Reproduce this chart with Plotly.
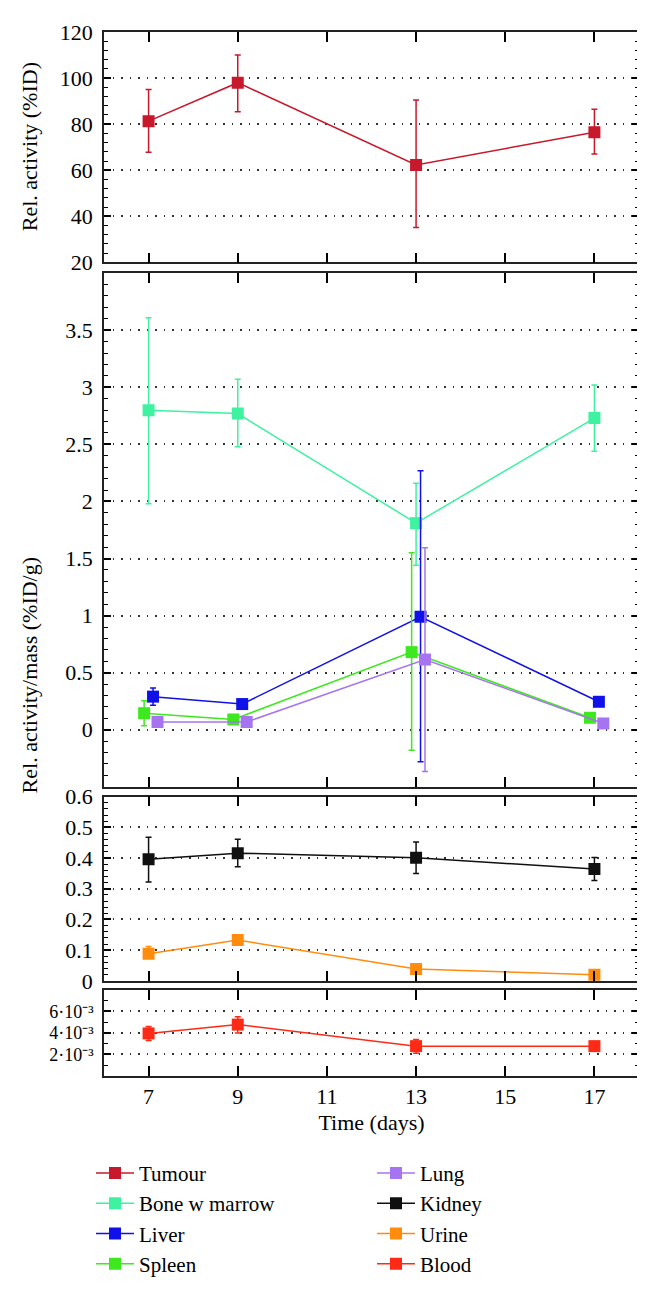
import plotly.graph_objects as go

# Datos
days = [7, 9, 13, 17]

tumour = [81.3, 98.0, 62.3, 76.5]
tumour_hi = [95.0, 110.0, 90.5, 86.5]
tumour_lo = [67.8, 85.4, 35.2, 67.1]

bone = [2.80, 2.77, 1.81, 2.73]
bone_hi = [3.61, 3.07, 2.16, 3.02]
bone_lo = [1.98, 2.48, 1.44, 2.44]

liver = [0.29, 0.225, 0.99, 0.245]
liver_hi = [0.365, 0.245, 2.27, 0.26]
liver_lo = [0.215, 0.205, -0.28, 0.23]

spleen = [0.145, 0.09, 0.68, 0.105]
spleen_hi = [0.255, 0.10, 1.55, 0.115]
spleen_lo = [0.035, 0.08, -0.18, 0.095]

lung = [0.068, 0.068, 0.615, 0.055]
lung_hi = [0.075, 0.075, 1.595, 0.06]
lung_lo = [0.061, 0.061, -0.365, 0.05]

kidney = [0.396, 0.416, 0.401, 0.364]
kidney_hi = [0.468, 0.461, 0.452, 0.402]
kidney_lo = [0.322, 0.372, 0.350, 0.327]

urine = [0.088, 0.133, 0.039, 0.020]
urine_hi = [0.112, 0.140, 0.044, 0.024]
urine_lo = [0.074, 0.126, 0.034, 0.016]

blood = [3.95e-3, 4.77e-3, 2.77e-3, 2.77e-3]
blood_hi = [4.60e-3, 5.50e-3, 3.38e-3, 2.85e-3]
blood_lo = [3.30e-3, 4.00e-3, 2.10e-3, 2.69e-3]

# desplazamiento horizontal de cada serie (para que no se solapen)
dodge = {'Bone w marrow': 0.0, 'Liver': 0.1, 'Spleen': -0.1, 'Lung': 0.2}

FONT = 'Liberation Serif'
FS = 22
TXT = dict(family=FONT, size=FS, color='black')

series = [
    # nombre, valores, hi, lo, color, panel, rango en leyenda
    ('Tumour', tumour, tumour_hi, tumour_lo, '#c8182c', 1, 1),
    ('Bone w marrow', bone, bone_hi, bone_lo, '#3ef2a0', 2, 3),
    ('Liver', liver, liver_hi, liver_lo, '#1010e8', 2, 5),
    ('Spleen', spleen, spleen_hi, spleen_lo, '#3ee81e', 2, 7),
    ('Lung', lung, lung_hi, lung_lo, '#a674f0', 2, 2),
    ('Kidney', kidney, kidney_hi, kidney_lo, '#101010', 3, 4),
    ('Urine', urine, urine_hi, urine_lo, '#ff8c0c', 3, 6),
    ('Blood', blood, blood_hi, blood_lo, '#ff2a16', 4, 8),
]

fig = go.Figure()
for name, vals, hi, lo, color, panel, rank in series:
    off = dodge.get(name, 0.0)
    fig.add_trace(go.Scatter(
        x=[d + off for d in days], y=vals,
        mode='lines+markers', name=name,
        line=dict(color=color, width=1.5),
        marker=dict(symbol='square', size=12, color=color),
        error_y=dict(type='data', symmetric=False,
                     array=[h - v for h, v in zip(hi, vals)],
                     arrayminus=[v - l for v, l in zip(vals, lo)],
                     color=color, thickness=1.5, width=3),
        xaxis='x' if panel == 1 else 'x%d' % panel,
        yaxis='y' if panel == 1 else 'y%d' % panel,
        legendrank=rank,
    ))

# dominios verticales de cada panel (fraccion del area de dibujo)
domains = {1: [0.7793, 1.0], 2: [0.2770, 0.7690], 3: [0.0911, 0.2676], 4: [0.0, 0.0826]}
yranges = {1: [20, 120], 2: [-0.5, 4], 3: [0, 0.6], 4: [0, 8e-3]}
ytickvals = {1: [20, 40, 60, 80, 100, 120],
             2: [0, 0.5, 1, 1.5, 2, 2.5, 3, 3.5],
             3: [0, 0.1, 0.2, 0.3, 0.4, 0.5, 0.6],
             4: [2e-3, 4e-3, 6e-3]}
yticktext = {1: ['20', '40', '60', '80', '100', '120'],
             2: ['0', '0.5', '1', '1.5', '2', '2.5', '3', '3.5'],
             3: ['0', '0.1', '0.2', '0.3', '0.4', '0.5', '0.6'],
             4: ['2·10⁻³', '4·10⁻³', '6·10⁻³']}
yminor = {1: 4, 2: 0.1, 3: 0.02, 4: 1e-3}
ytickfs = {1: FS, 2: FS, 3: FS, 4: 18}

layout = dict(
    width=645, height=1289,
    margin=dict(l=96, r=12, t=22, b=202),
    paper_bgcolor='white', plot_bgcolor='white',
    font=TXT,
    showlegend=True,
    legend=dict(orientation='h', x=-0.005, xanchor='left', y=-0.0735, yanchor='top',
                entrywidth=228, entrywidthmode='pixels', traceorder='normal',
                font=dict(family=FONT, size=21, color='black'), itemwidth=38),
)

for p in range(1, 5):
    xk = 'xaxis' if p == 1 else 'xaxis%d' % p
    yk = 'yaxis' if p == 1 else 'yaxis%d' % p
    layout[xk] = dict(
        range=[6, 18], anchor='y' if p == 1 else 'y%d' % p,
        tickvals=[7, 9, 11, 13, 15, 17], ticktext=['7', '9', '11', '13', '15', '17'],
        tickfont=TXT,
        ticks='inside', ticklen=10, tickwidth=1.5, tickcolor='black',
        showline=True, linecolor='#222', linewidth=1.5, mirror='ticks',
        showgrid=False, zeroline=False, showticklabels=(p == 4),
    )
    if p == 4:
        layout[xk]['title'] = dict(text='Time (days)', standoff=6, font=TXT)
    layout[yk] = dict(
        domain=domains[p], range=yranges[p], anchor='x' if p == 1 else 'x%d' % p,
        tickvals=ytickvals[p], ticktext=yticktext[p],
        tickfont=dict(family=FONT, size=ytickfs[p], color='black'),
        ticklabelstandoff=5,
        ticks='inside', ticklen=7, tickwidth=1.5, tickcolor='black',
        minor=dict(dtick=yminor[p], ticks='inside', ticklen=4, tickwidth=1, tickcolor='black',
                   showgrid=False),
        showline=True, linecolor='#222', linewidth=1.5, mirror='ticks',
        showgrid=True, gridcolor='#333', griddash='1.5px,7px', gridwidth=1.5,
        zeroline=False,
    )

layout['annotations'] = [
    dict(text='Rel. activity (%ID)', textangle=-90, xref='paper', yref='paper',
         x=-0.14, y=0.8897, xanchor='center', yanchor='middle', showarrow=False,
         font=TXT),
    dict(text='Rel. activity/mass (%ID/g)', textangle=-90, xref='paper', yref='paper',
         x=-0.14, y=0.3838, xanchor='center', yanchor='middle', showarrow=False,
         font=TXT),
]

fig.update_layout(layout)
fig.write_html('out.html')
